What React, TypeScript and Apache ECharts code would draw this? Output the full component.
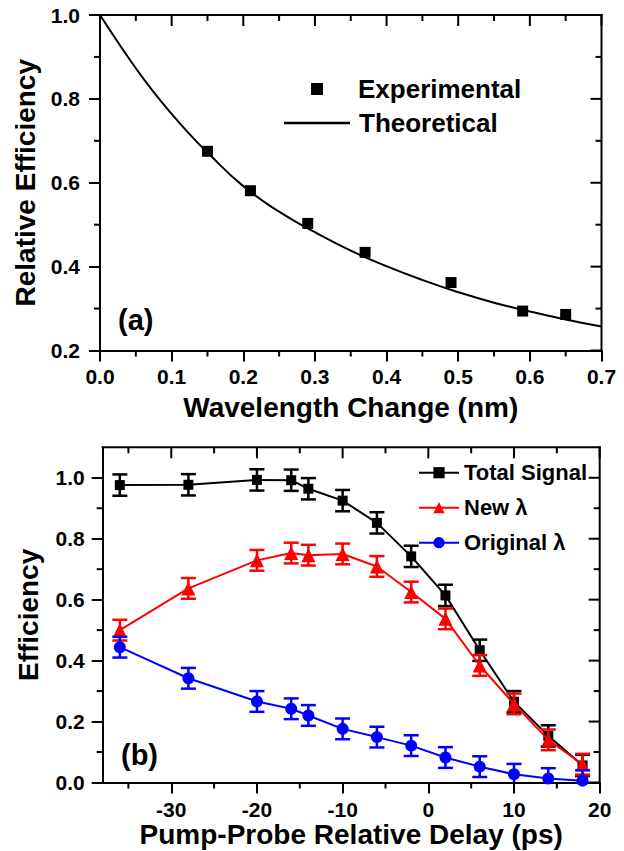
import React, { useEffect, useRef, useState } from "react";
import * as echarts from "echarts";

const FONT = "'Liberation Sans', Arial, Helvetica, sans-serif";

// ---------- Panel (a) ----------
const expX = [0.15, 0.21, 0.29, 0.37, 0.49, 0.59, 0.65];
const expY = [0.675, 0.581, 0.503, 0.434, 0.362, 0.294, 0.286];
const theoX = [0, 0.025, 0.05, 0.075, 0.1, 0.125, 0.15, 0.2, 0.25, 0.3, 0.35, 0.4, 0.45, 0.5, 0.55, 0.6, 0.65, 0.7];
const theoY = [1.0, 0.935, 0.873, 0.816, 0.764, 0.716, 0.672, 0.592, 0.531, 0.482, 0.438, 0.401, 0.368, 0.339, 0.314, 0.293, 0.274, 0.257];
const aXTicks = [0, 0.1, 0.2, 0.3, 0.4, 0.5, 0.6, 0.7];
const aXMinor = [0.05, 0.15, 0.25, 0.35, 0.45, 0.55, 0.65];
const aYTicks = [0.2, 0.4, 0.6, 0.8, 1.0];
const aYMinor = [0.3, 0.5, 0.7, 0.9];

// ---------- Panel (b) ----------
const delay = [-36, -28, -20, -16, -14, -10, -6, -2, 2, 6, 10, 14, 18];
const totalSignal = [0.976, 0.977, 0.993, 0.992, 0.964, 0.925, 0.852, 0.742, 0.614, 0.434, 0.265, 0.153, 0.056];
const newLambda = [0.5, 0.637, 0.729, 0.753, 0.746, 0.75, 0.709, 0.625, 0.537, 0.384, 0.258, 0.14, 0.06];
const originalLambda = [0.444, 0.342, 0.266, 0.242, 0.22, 0.176, 0.149, 0.121, 0.082, 0.052, 0.027, 0.013, 0.006];
const totalErr = [0.035, 0.035, 0.035, 0.035, 0.035, 0.035, 0.035, 0.035, 0.035, 0.035, 0.035, 0.035, 0.035];
const newErr = [0.034, 0.034, 0.034, 0.034, 0.034, 0.034, 0.034, 0.034, 0.034, 0.034, 0.034, 0.034, 0.034];
const origErr = [0.034, 0.034, 0.034, 0.034, 0.034, 0.034, 0.034, 0.034, 0.034, 0.034, 0.034, 0.034, 0.034];
const bXTicks = [-30, -20, -10, 0, 10, 20];
const bXMinor = [-35, -25, -15, -5, 5, 15];
const bYTicks = [0, 0.2, 0.4, 0.6, 0.8, 1.0];
const bYMinor = [0.1, 0.3, 0.5, 0.7, 0.9];

const black = "#000000";
const red = "#ff0000";
const blue = "#0000ff";

const MAJOR = 11;
const MINOR = 6;

const GRID_A = { left: 100, top: 15, width: 501.5, height: 335.5 };
const GRID_B = { left: 102.7, top: 447.3, width: 497, height: 335.2 };

function mkAxis(o: any) {
  const { gridIndex, position, min, max, values, formatter, name, nameGap, labelMargin } = o;
  return {
    type: "value",
    gridIndex,
    position,
    min,
    max,
    axisLine: { show: true, onZero: false, lineStyle: { color: black, width: 2 } },
    axisTick: {
      show: true,
      inside: false,
      length: MAJOR,
      lineStyle: { color: black, width: 2 },
      customValues: values,
    },
    axisLabel: {
      show: true,
      customValues: values,
      formatter,
      color: black,
      fontSize: 21,
      fontWeight: "bold",
      fontFamily: FONT,
      margin: labelMargin,
    },
    splitLine: { show: false },
    name,
    nameLocation: "middle",
    nameGap,
    nameTextStyle: { color: black, fontSize: 28, fontWeight: "bold", fontFamily: FONT },
  };
}

function errSeries(xs: number[], ys: number[], errs: number[], color: string, ai: number, yFloor: number, z: number) {
  return {
    type: "custom",
    xAxisIndex: ai,
    yAxisIndex: ai,
    clip: false,
    silent: true,
    z,
    data: xs.map((x, i) => [x, ys[i] - errs[i], ys[i] + errs[i]]),
    renderItem: (params: any, api: any) => {
      const lo = api.coord([api.value(0), api.value(1)]);
      const hi = api.coord([api.value(0), api.value(2)]);
      const floorY = api.coord([api.value(0), yFloor])[1];
      let loY = lo[1];
      let loCap = true;
      if (loY > floorY) { loY = floorY; loCap = false; }
      const hw = 7.5;
      const style = { stroke: color, lineWidth: 2.5, fill: null };
      const ch: any[] = [
        { type: "line", shape: { x1: lo[0], y1: loY, x2: hi[0], y2: hi[1] }, style },
        { type: "line", shape: { x1: hi[0] - hw, y1: hi[1], x2: hi[0] + hw, y2: hi[1] }, style },
      ];
      if (loCap) ch.push({ type: "line", shape: { x1: lo[0] - hw, y1: loY, x2: lo[0] + hw, y2: loY }, style });
      return { type: "group", children: ch };
    },
  };
}

// Frame edges (top/right), mirrored inside ticks and outside minor ticks.
// Positions come from the chart's own scales via convertToPixel.
function frameSegments(chart: any, gi: number, g: any, xr: number[], yr: number[], xMaj: number[], xMin: number[], yMaj: number[], yMin: number[]) {
  const c = (x: number, y: number): number[] => {
    let p: any = null;
    try { p = chart.convertToPixel({ gridIndex: gi }, [x, y]); } catch (e) { p = null; }
    if (!p || !isFinite(p[0]) || !isFinite(p[1])) {
      p = [
        g.left + ((x - xr[0]) / (xr[1] - xr[0])) * g.width,
        g.top + g.height - ((y - yr[0]) / (yr[1] - yr[0])) * g.height,
      ];
    }
    return p;
  };
  const bl = c(xr[0], yr[0]);
  const tr = c(xr[1], yr[1]);
  const L = bl[0], B = bl[1], R = tr[0], T = tr[1];
  const out: number[][] = [[L - 1, T, R + 1, T], [R, T - 1, R, B + 1]];
  xMaj.forEach((v) => { const px = c(v, yr[0])[0]; out.push([px, T, px, T + MAJOR]); });
  xMin.forEach((v) => {
    const px = c(v, yr[0])[0];
    out.push([px, T, px, T + MINOR]);
    out.push([px, B, px, B + MINOR]);
  });
  yMaj.forEach((v) => { const py = c(xr[0], v)[1]; out.push([R, py, R - MAJOR, py]); });
  yMin.forEach((v) => {
    const py = c(xr[0], v)[1];
    out.push([R, py, R - MINOR, py]);
    out.push([L, py, L - MINOR, py]);
  });
  return out;
}

export default function App() {
  const ref = useRef<HTMLDivElement>(null);
  const [segs, setSegs] = useState<number[][]>([]);
  useEffect(() => {
    if (!ref.current) return;
    const chart = echarts.init(ref.current, undefined, { renderer: "svg" });
    const f1 = (v: number) => v.toFixed(1);
    const fInt = (v: number) => String(Math.round(v));

    const legendText = (size: number, pad: number[]) => ({
      color: black, fontSize: size, fontWeight: "bold", fontFamily: FONT, padding: pad,
    });

    const option: any = {
      animation: false,
      backgroundColor: "#ffffff",
      textStyle: { fontFamily: FONT },
      grid: [{ ...GRID_A }, { ...GRID_B }],
      xAxis: [
        mkAxis({ gridIndex: 0, position: "bottom", min: 0, max: 0.7, values: aXTicks, formatter: f1, name: "Wavelength Change (nm)", nameGap: 43, labelMargin: 15 }),
        mkAxis({ gridIndex: 1, position: "bottom", min: -38, max: 20, values: bXTicks, formatter: fInt, name: "Pump-Probe Relative Delay (ps)", nameGap: 36, labelMargin: 16 }),
      ],
      yAxis: [
        mkAxis({ gridIndex: 0, position: "left", min: 0.2, max: 1.0, values: aYTicks, formatter: f1, name: "Relative Efficiency", nameGap: 58, labelMargin: 20 }),
        mkAxis({ gridIndex: 1, position: "left", min: 0, max: 1.1, values: bYTicks, formatter: f1, name: "Efficiency", nameGap: 60, labelMargin: 18 }),
      ],
      legend: [
        {
          data: [{ name: "Experimental", icon: "rect" }],
          left: 311,
          top: 76,
          padding: 0,
          itemWidth: 12,
          itemHeight: 12,
          textStyle: legendText(26, [0, 0, 0, 30]),
          selectedMode: false,
        },
        {
          data: [{ name: "Theoretical", icon: "rect" }],
          left: 284,
          top: 110,
          padding: 0,
          itemWidth: 66,
          itemHeight: 2.5,
          textStyle: legendText(26, [0, 0, 0, 4]),
          selectedMode: false,
        },
        {
          data: ["Total Signal", "New λ", "Original λ"],
          orient: "vertical",
          left: 418,
          top: 461.7,
          padding: 0,
          itemWidth: 40,
          itemHeight: 14,
          itemGap: 13,
          textStyle: legendText(22, [0, 0, 0, 0]),
          selectedMode: false,
        },
      ],
      graphic: [
        { type: "text", left: 118, top: 305, style: { text: "(a)", fill: black, font: `bold 29px ${FONT}` } },
        { type: "text", left: 121, top: 740, style: { text: "(b)", fill: black, font: `bold 29px ${FONT}` } },
      ],
      series: [
        {
          name: "Theoretical",
          type: "line",
          xAxisIndex: 0,
          yAxisIndex: 0,
          data: theoX.map((x, i) => [x, theoY[i]]),
          smooth: true,
          symbol: "none",
          lineStyle: { color: black, width: 2 },
          itemStyle: { color: black },
          z: 2,
        },
        {
          name: "Experimental",
          type: "scatter",
          xAxisIndex: 0,
          yAxisIndex: 0,
          data: expX.map((x, i) => [x, expY[i]]),
          symbol: "rect",
          symbolSize: 11,
          itemStyle: { color: black, opacity: 1 },
          z: 3,
        },
        errSeries(delay, totalSignal, totalErr, black, 1, 0, 2),
        {
          name: "Total Signal",
          type: "line",
          xAxisIndex: 1,
          yAxisIndex: 1,
          data: delay.map((x, i) => [x, totalSignal[i]]),
          symbol: "rect",
          symbolSize: 10,
          lineStyle: { color: black, width: 2 },
          itemStyle: { color: black },
          z: 3,
        },
        errSeries(delay, newLambda, newErr, red, 1, 0, 4),
        {
          name: "New λ",
          type: "line",
          xAxisIndex: 1,
          yAxisIndex: 1,
          data: delay.map((x, i) => [x, newLambda[i]]),
          symbol: "triangle",
          symbolSize: 14,
          lineStyle: { color: red, width: 2 },
          itemStyle: { color: red },
          z: 5,
        },
        errSeries(delay, originalLambda, origErr, blue, 1, 0, 6),
        {
          name: "Original λ",
          type: "line",
          xAxisIndex: 1,
          yAxisIndex: 1,
          data: delay.map((x, i) => [x, originalLambda[i]]),
          symbol: "circle",
          symbolSize: 12,
          lineStyle: { color: blue, width: 2 },
          itemStyle: { color: blue },
          z: 7,
        },
      ],
    };
    chart.setOption(option);

    setSegs([
      ...frameSegments(chart, 0, GRID_A, [0, 0.7], [0.2, 1.0], aXTicks, aXMinor, aYTicks, aYMinor),
      ...frameSegments(chart, 1, GRID_B, [-38, 20], [0, 1.1], bXTicks, bXMinor, bYTicks, bYMinor),
    ]);
    return () => chart.dispose();
  }, []);
  return (
    <div style={{ position: "absolute", left: 0, top: 0, width: 624, height: 851, background: "#fff" }}>
      <div
        ref={ref}
        style={{ position: "absolute", left: 0, top: 0, width: 624, height: 851 }}
      />
      <svg
        width={624}
        height={851}
        style={{ position: "absolute", left: 0, top: 0, pointerEvents: "none" }}
      >
        {segs.map((s, i) => (
          <line key={i} x1={s[0]} y1={s[1]} x2={s[2]} y2={s[3]} stroke={black} strokeWidth={2} />
        ))}
      </svg>
    </div>
  );
}
